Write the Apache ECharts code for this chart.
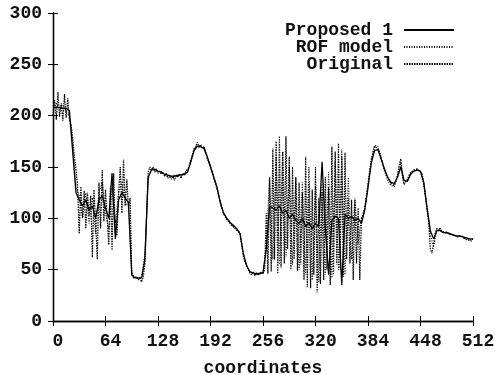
<!DOCTYPE html>
<html>
<head>
<meta charset="utf-8">
<script src="https://cdn.jsdelivr.net/npm/echarts@6/dist/echarts.min.js"></script>
<style>
  html, body { margin: 0; padding: 0; background: #fff; }
  #chart { width: 495px; height: 375px; }
</style>
</head>
<body>
<div id="chart"></div>
<script>
// x ticks / y ticks
const xTicks = [0, 64, 128, 192, 256, 320, 384, 448, 512]
const yTicks = [0, 50, 100, 150, 200, 250, 300]

// Proposed 1, one value every 4 coordinates (0..512)
const proposedStep = 4
const proposed = [
  208, 208, 208, 207, 207, 205, 165, 125,
  118, 112, 118, 108, 112, 100, 118, 122,
  110, 100, 144, 80, 118, 125, 120, 115,
  45, 42, 42, 42, 60, 140, 147, 148,
  146, 145, 143, 142, 141, 141, 142, 142,
  143, 145, 155, 166, 170, 170, 168, 160,
  150, 140, 130, 115, 105, 100, 96, 93,
  90, 85, 66, 54, 48, 47, 46, 46,
  47, 70, 112, 110, 108, 112, 105, 108,
  100, 104, 98, 95, 100, 92, 96, 90,
  95, 92, 155, 90, 45, 98, 102, 100,
  35, 104, 100, 102, 98, 100, 95, 108,
  130, 154, 166, 167, 158, 148, 140, 135,
  134, 140, 150, 137, 136, 143, 146, 147,
  146, 135, 110, 88, 80, 88, 88, 86,
  86, 85, 84, 83, 83, 82, 81, 80,
  80
]

// ROF model, every 4 coordinates
const rofStep = 4
const rof = [
  205, 212, 206, 210, 204, 200, 170, 130,
  122, 100, 125, 95, 120, 85, 125, 135,
  105, 90, 130, 95, 125, 135, 115, 112,
  48, 42, 41, 43, 65, 138, 148, 147,
  145, 146, 142, 141, 140, 142, 141, 143,
  142, 146, 157, 167, 171, 169, 169, 158,
  151, 139, 128, 116, 104, 99, 95, 92,
  89, 86, 64, 53, 47, 46, 45, 47,
  46, 75, 140, 60, 160, 55, 165, 62,
  150, 55, 140, 50, 135, 45, 150, 40,
  130, 38, 135, 45, 145, 42, 155, 50,
  160, 45, 140, 60, 120, 75, 100, 110,
  134, 158, 171, 170, 159, 146, 137, 132,
  131, 142, 154, 134, 137, 145, 147, 148,
  145, 133, 108, 84, 72, 90, 89, 87,
  87, 84, 84, 82, 83, 81, 80, 79,
  80
]

// Original (noisy), every 2 coordinates
const originalStep = 2
const original = [
  200, 215, 196, 223, 199, 212, 195, 221, 198, 217, 196, 192, 178, 160, 148, 130,
  85, 131, 100, 127, 90, 125, 102, 122, 62, 128, 95, 60, 135, 90, 147, 97,
  128, 100, 74, 131, 69, 144, 86, 83, 125, 150, 105, 157, 112, 138, 110, 120,
  45, 42, 41, 43, 40, 42, 38, 43, 55, 100, 145, 150, 147, 150, 145, 148,
  144, 146, 143, 145, 141, 144, 139, 142, 138, 141, 137, 142, 140, 143, 139, 144,
  142, 146, 145, 150, 156, 162, 168, 170, 174, 169, 172, 168, 170, 165, 160, 155,
  150, 146, 140, 135, 130, 122, 116, 110, 104, 102, 99, 97, 96, 93, 92, 90,
  89, 87, 85, 75, 63, 58, 54, 50, 47, 45, 48, 44, 47, 45, 44, 48,
  46, 50, 105, 46, 140, 48, 168, 60, 175, 46, 180, 52, 165, 56, 180, 70,
  160, 50, 150, 60, 140, 49, 135, 55, 125, 40, 160, 33, 135, 32, 128, 45,
  150, 28, 120, 36, 125, 40, 140, 50, 130, 35, 170, 45, 165, 55, 173, 50,
  167, 43, 164, 60, 120, 56, 118, 40, 118, 56, 110, 40, 100, 102, 110, 120,
  132, 145, 156, 164, 170, 171, 168, 165, 159, 153, 148, 143, 140, 137, 134, 133,
  132, 136, 142, 152, 158, 140, 133, 136, 138, 142, 144, 145, 147, 146, 148, 147,
  145, 143, 134, 122, 110, 98, 70, 66, 75, 86, 90, 88, 91, 87, 88, 86,
  87, 85, 86, 84, 85, 83, 84, 82, 81, 83, 82, 80, 81, 79, 80, 78,
  80
]

const font = 'Liberation Mono'

function toPairs(values, step) {
  return values.map((v, i) => [i * step, v])
}

const chart = echarts.init(document.getElementById('chart'), null, { renderer: 'canvas' })

const tickStyle = { show: true, inside: true, length: 5, lineStyle: { color: '#000', width: 1 } }
const axisLineStyle = { show: true, lineStyle: { color: '#000', width: 1.3 } }
const labelFont = { fontFamily: font, fontSize: 18, fontWeight: 'bold', color: '#111' }

const option = {
  backgroundColor: '#fff',
  animation: false,
  grid: {
    left: 53,
    right: 22,
    top: 13,
    bottom: 54,
    outerBoundsMode: 'none',
  },
  legend: {
    data: ['Proposed 1', 'ROF model', 'Original'],
    orient: 'vertical',
    right: 35,
    top: 16,
    align: 'right',
    itemWidth: 50,
    itemHeight: 8,
    itemGap: -1,
    itemStyle: { opacity: 0 },
    textStyle: Object.assign({}, labelFont, { padding: [0, 6, 0, 0] }),
  },
  xAxis: [
    {
      type: 'value',
      position: 'bottom',
      min: xTicks[0],
      max: xTicks[xTicks.length - 1],
      interval: 64,
      axisLine: axisLineStyle,
      axisTick: tickStyle,
      splitLine: { show: false },
      axisLabel: Object.assign({}, labelFont, { margin: 11, padding: [0, 0, 0, 10] }),
      name: 'coordinates',
      nameLocation: 'middle',
      nameGap: 38,
      nameTextStyle: labelFont,
    },
    {
      type: 'value',
      position: 'top',
      min: xTicks[0],
      max: xTicks[xTicks.length - 1],
      interval: 64,
      axisLine: axisLineStyle,
      axisTick: tickStyle,
      axisLabel: { show: false },
      splitLine: { show: false },
    },
  ],
  yAxis: [
    {
      type: 'value',
      position: 'left',
      min: yTicks[0],
      max: yTicks[yTicks.length - 1],
      interval: 50,
      axisLine: axisLineStyle,
      axisTick: tickStyle,
      splitLine: { show: false },
      axisLabel: Object.assign({}, labelFont, { margin: 11 }),
    },
    {
      type: 'value',
      position: 'right',
      min: yTicks[0],
      max: yTicks[yTicks.length - 1],
      interval: 50,
      axisLine: axisLineStyle,
      axisTick: tickStyle,
      axisLabel: { show: false },
      splitLine: { show: false },
    },
  ],
  series: [
    {
      name: 'Original',
      type: 'line',
      data: toPairs(original, originalStep),
      showSymbol: false,
      symbol: 'none',
      lineStyle: { color: '#000', width: 1.2, type: [1.5, 1] },
      itemStyle: { color: '#000' },
      z: 2,
    },
    {
      name: 'ROF model',
      type: 'line',
      data: toPairs(rof, rofStep),
      showSymbol: false,
      symbol: 'none',
      lineStyle: { color: '#000', width: 1.1, type: [1, 1.5] },
      itemStyle: { color: '#000' },
      z: 3,
    },
    {
      name: 'Proposed 1',
      type: 'line',
      data: toPairs(proposed, proposedStep),
      showSymbol: false,
      symbol: 'none',
      lineStyle: { color: '#000', width: 1.3 },
      itemStyle: { color: '#000' },
      z: 4,
    },
  ],
}

chart.setOption(option)
</script>
</body>
</html>
